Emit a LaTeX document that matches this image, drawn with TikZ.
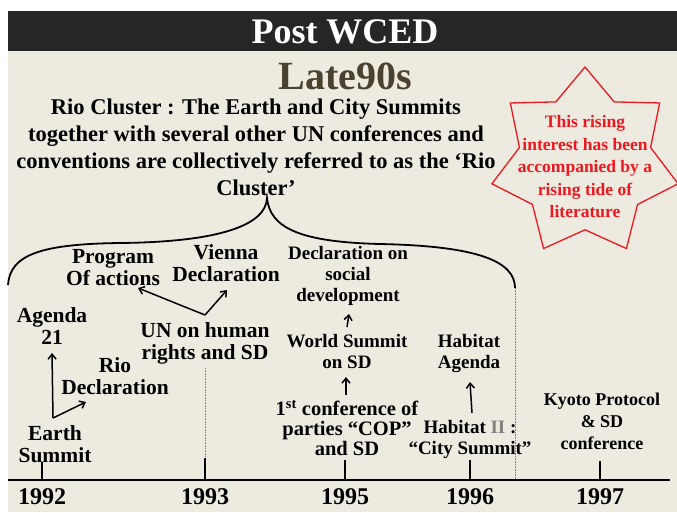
\documentclass[tikz,border=0pt]{standalone}
\usepackage{fontspec}
\setmainfont{Liberation Serif}
\usetikzlibrary{arrows.meta,shapes.geometric}
\definecolor{bg}{HTML}{EDEAE0}
\definecolor{barc}{HTML}{262626}
\definecolor{olive}{HTML}{4A4230}
\definecolor{starred}{HTML}{F01820}
\begin{document}
\begin{tikzpicture}[x=1pt,y=-1pt,
  lbl/.style={font=\bfseries\fontsize{19}{21}\selectfont, align=center, inner sep=0pt, text=black},
  lblw/.style={lbl, font=\bfseries\fontsize{21.5}{22}\selectfont},
  yr/.style={font=\bfseries\fontsize{24}{26}\selectfont, inner sep=0pt},
  arr/.style={line width=1.5pt, -{Straight Barb[length=5pt,width=8pt]}},
  tickline/.style={line width=2.6pt},
  guide/.style={gray, line width=0.6pt, densely dotted}]

\useasboundingbox (0,0) rectangle (677,512);
\fill[white] (0,0) rectangle (677,512);
\fill[bg] (8,51) rectangle (677,512);
\fill[barc] (8,11) rectangle (677,51);

\node[text=white, font=\bfseries\fontsize{36}{40}\selectfont, inner sep=0pt] (title) at (345,32) {Post WCED};
\node[text=olive, font=\bfseries\fontsize{40}{42}\selectfont, inner sep=0pt] (late) at (345,76) {Late90s};
\node[font=\bfseries\fontsize{22.5}{27}\selectfont, align=center, inner sep=0pt] (rio) at (256,147)
  {Rio Cluster : The Earth and City Summits\\together with several other UN conferences and\\conventions are collectively referred to as the `Rio\\Cluster'};

% star
\node[star, star points=7, star point ratio=1.42, minimum size=191pt, draw=starred, line width=1.3pt, inner sep=0pt] (star) at (585,162.5) {};
\node[text=starred, font=\bfseries\fontsize{17.5}{22.5}\selectfont, align=center, inner sep=0pt] (startext) at (585,167)
  {This rising\\interest has been\\accompanied by a\\rising tide of\\literature};

% brace
\draw[line width=1.8pt] (8,285) .. controls (10,255) and (40,244) .. (120,243)
  .. controls (220,242) and (266,225) .. (267,198)
  .. controls (270,228) and (300,242) .. (380,244)
  .. controls (480,246) and (515,262) .. (515,288);

% guides
\coordinate (g1a) at (515,288); \coordinate (g1b) at (515,480);
\coordinate (g2a) at (205,368); \coordinate (g2b) at (205,458);
\draw[guide] (g1a) -- (g1b);
\draw[guide] (g2a) -- (g2b);

% timeline
\coordinate (tl) at (8,480); \coordinate (tr) at (670,480);
\draw[line width=2.8pt] (tl) -- (tr);
\foreach \x/\top/\n in {42/462/a, 205/458/b, 345/460/c, 470/460/d, 600/461/e}{
  \coordinate (tb\n) at (\x,480); \coordinate (tt\n) at (\x,\top);
  \draw[tickline] (tb\n) -- (tt\n);
}
\node[yr] (y92) at (42,497) {1992};
\node[yr] (y93) at (205,497) {1993};
\node[yr] (y95) at (345,497) {1995};
\node[yr] (y96) at (470,497) {1996};
\node[yr] (y97) at (600,497) {1997};

% labels
\node[lblw] (agenda) at (52,326) {Agenda\\21};
\node[lblw] (program) at (113,268) {Program\\Of actions};
\node[lblw] (vienna) at (226,263) {Vienna\\Declaration};
\node[lbl] (social) at (348,276) {Declaration on\\social\\development};
\node[lblw] (un) at (205,343) {UN on human\\rights and SD};
\node[lbl] (world) at (347,351) {World Summit\\on SD};
\node[lblw] (riodecl) at (115,376) {Rio\\Declaration};
\node[lblw] (earth) at (55,444) {Earth\\Summit};
\node[lblw, font=\bfseries\fontsize{20.5}{20}\selectfont] (cop) at (347,428) {1\textsuperscript{st} conference of\\parties ``COP''\\and SD};
\node[lbl] (habagenda) at (469,353) {Habitat\\Agenda};
\node[lbl] (habitat) at (470,439) {Habitat \textcolor{gray}{II} :\\``City Summit''};
\node[lbl, font=\bfseries\fontsize{18}{22}\selectfont] (kyoto) at (602,421) {Kyoto Protocol\\\& SD\\conference};

% arrows
\coordinate (v1) at (53,418);
\coordinate (t1a) at (52,353); \coordinate (t1b) at (86,402);
\draw[arr] (v1) -- (t1a);
\draw[arr] (v1) -- (t1b);
\coordinate (v2) at (205,315);
\coordinate (t2a) at (138,288); \coordinate (t2b) at (227,290);
\draw[arr] (v2) -- (t2a);
\draw[arr] (v2) -- (t2b);
\coordinate (s3) at (347,327); \coordinate (t3) at (349,314);
\draw[arr] (s3) -- (t3);
\coordinate (s4) at (346,395); \coordinate (t4) at (346,377);
\draw[arr] (s4) -- (t4);
\coordinate (s5) at (472,413); \coordinate (t5) at (470,382);
\draw[arr] (s5) -- (t5);
\end{tikzpicture}
\end{document}
